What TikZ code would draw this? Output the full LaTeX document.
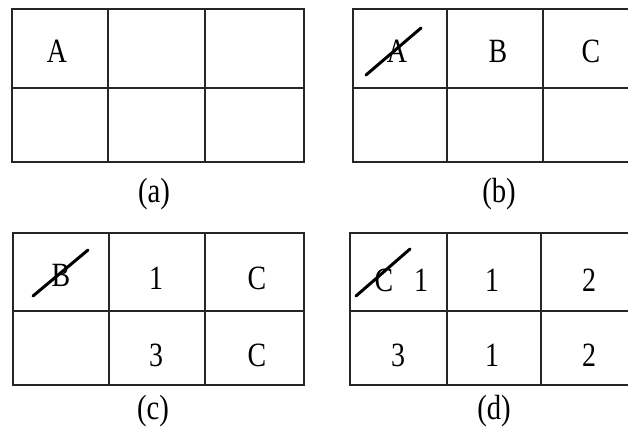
\documentclass[tikz,border=0pt]{standalone}
\usepackage{fontspec}
\setmainfont{Liberation Serif}[FakeStretch=0.82]
\begin{document}
\begin{tikzpicture}[x=1pt,y=-1pt,
  gridline/.style={line width=2pt,black!85},
  cell/.style={font=\fontsize{34}{34}\selectfont,inner sep=0pt,anchor=center},
  caption/.style={font=\fontsize{35}{35}\selectfont,inner sep=0pt,anchor=center},
  strike/.style={line width=3pt,line cap=round}]
\useasboundingbox (0,0) rectangle (628,429);
\clip (0,0) rectangle (628,429);
% (a)
\draw[gridline] (12,9) rectangle (304,162);
\draw[gridline] (108,9) -- (108,162) (205,9) -- (205,162) (12,88) -- (304,88);
\node[cell] (aA) at (57,51) {A};
\node[caption] (la) at (154,194) {(a)};
% (b)
\draw[gridline] (353,9) rectangle (640,162);
\draw[gridline] (447,9) -- (447,162) (543,9) -- (543,162) (353,88) -- (640,88);
\node[cell] (bA) at (397,51) {A};
\node[cell] (bB) at (498,51) {B};
\node[cell] (bC) at (591,51) {C};
\coordinate (bs1) at (366,75);
\coordinate (bs2) at (421,28);
\draw[strike] (bs1) -- (bs2);
\node[caption] (lb) at (499,194) {(b)};
% (c)
\draw[gridline] (13,233) rectangle (304,385);
\draw[gridline] (109,233) -- (109,385) (205,233) -- (205,385) (13,311) -- (304,311);
\node[cell] (cB) at (61,275) {B};
\node[cell] (c1) at (156,278) {1};
\node[cell] (cC1) at (257,278) {C};
\node[cell] (c3) at (156,355) {3};
\node[cell] (cC2) at (257,355) {C};
\coordinate (cs1) at (33,296);
\coordinate (cs2) at (88,250);
\draw[strike] (cs1) -- (cs2);
\node[caption] (lc) at (153,411) {(c)};
% (d)
\draw[gridline] (350,233) rectangle (640,385);
\draw[gridline] (447,233) -- (447,385) (541,233) -- (541,385) (350,311) -- (640,311);
\node[cell] (dC) at (384,280) {C};
\node[cell] (d1a) at (421,280) {1};
\node[cell] (d1b) at (492,280) {1};
\node[cell] (d2a) at (589,280) {2};
\node[cell] (d3) at (398,355) {3};
\node[cell] (d1c) at (492,355) {1};
\node[cell] (d2b) at (589,355) {2};
\coordinate (ds1) at (356,296);
\coordinate (ds2) at (410,249);
\draw[strike] (ds1) -- (ds2);
\node[caption] (ld) at (494,411) {(d)};
\end{tikzpicture}
\end{document}
